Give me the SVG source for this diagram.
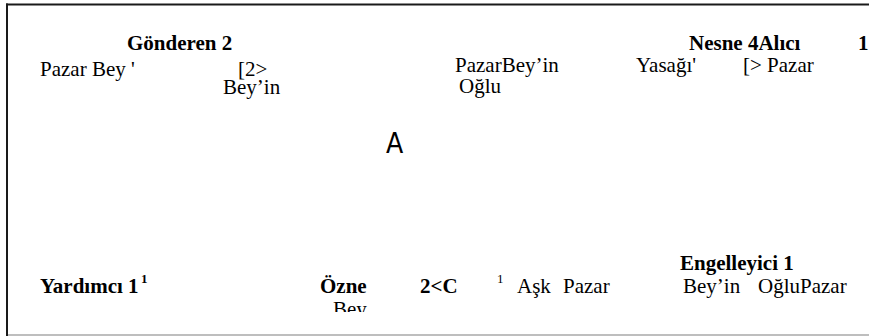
<svg xmlns="http://www.w3.org/2000/svg" width="869" height="336" viewBox="0 0 869 336">
  <defs>
    <style>
      .t { font-family: "Liberation Serif", "Times New Roman", serif; font-size: 21px; fill: #000; }
      .b { font-weight: bold; }
      .sup { font-size: 13px; }
      .big { font-family: "DejaVu Sans Condensed", "DejaVu Sans", sans-serif; font-size: 28px; fill: #000; }
    </style>
    <clipPath id="cut-bottom">
      <rect x="0" y="0" width="869" height="312"/>
    </clipPath>
  </defs>
  <rect width="869" height="336" fill="#fff"/>

  <!-- frame: dark top and left edges, light bottom edge -->
  <g id="frame">
    <line x1="6" y1="4.5" x2="869" y2="4.5" stroke="#1a1a1a" stroke-width="2"/>
    <line x1="7" y1="3.5" x2="7" y2="336" stroke="#1a1a1a" stroke-width="2"/>
    <line x1="8" y1="335" x2="869" y2="335" stroke="#a8a8a8" stroke-width="1.5"/>
  </g>

  <g id="gonderen">
    <text class="t b" x="127" y="50">Gönderen 2</text>
    <text class="t" x="40" y="76">Pazar Bey '</text>
    <text class="t" x="238" y="76">[2&gt;</text>
    <text class="t" x="223" y="94">Bey’in</text>
  </g>

  <g id="nesne">
    <text class="t" x="455" y="72">PazarBey’in</text>
    <text class="t" x="459" y="93">Oğlu</text>
  </g>

  <g id="alici">
    <text class="t b" x="689" y="50">Nesne 4Alıcı</text>
    <text class="t b" x="858" y="50">1</text>
    <text class="t" x="636" y="72">Yasağı'</text>
    <text class="t" x="743" y="72">[&gt;  Pazar</text>
  </g>

  <g id="center">
    <text class="big" x="386" y="153">A</text>
  </g>

  <g id="yardimci">
    <text class="t b" x="40" y="293">Yardımcı 1</text>
    <text class="t b sup" x="141" y="283">1</text>
  </g>

  <g id="ozne">
    <text class="t b" x="320" y="293">Özne</text>
    <text class="t" x="333" y="316" clip-path="url(#cut-bottom)">Bey</text>
    <text class="t b" x="420" y="293">2&lt;C</text>
    <text class="t sup" x="497" y="283">1</text>
    <text class="t" x="517" y="293">Aşk</text>
    <text class="t" x="563" y="293">Pazar</text>
  </g>

  <g id="engelleyici">
    <text class="t b" x="680" y="270">Engelleyici 1</text>
    <text class="t" x="683" y="293">Bey’in</text>
    <text class="t" x="758" y="293">OğluPazar</text>
  </g>
</svg>
